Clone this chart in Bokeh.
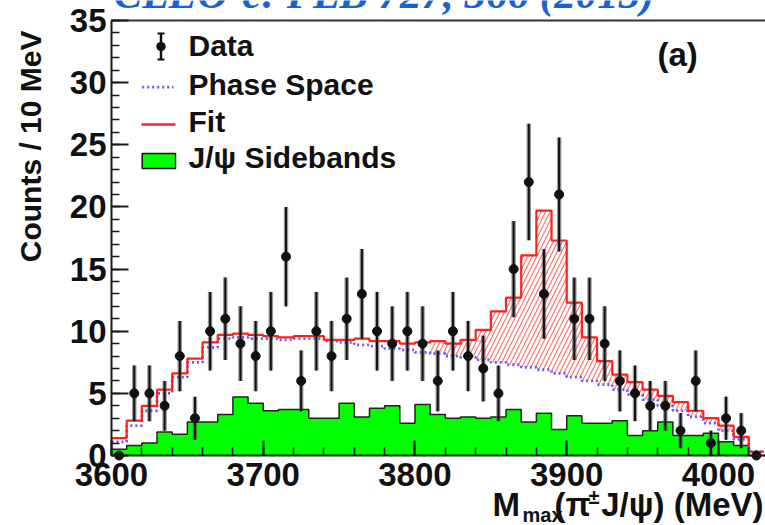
import numpy as np
from bokeh.plotting import figure
from bokeh.models import (Range1d, SingleIntervalTicker, Label, Arrow, TeeHead,
                          BoxAnnotation, LinearAxis)
from bokeh.embed import file_html
from bokeh.resources import INLINE

# ---- binning: 10 MeV bins starting at 3600 MeV ----
BIN_START = 3600
BIN_WIDTH = 10

# data counts per bin
counts = [0, 5, 5, 4, 8, 3, 10, 11, 9, 8,
          10, 16, 6, 10, 8, 11, 13, 10, 9, 10,
          9, 6, 10, 8, 7, 5, 15, 22, 13, 21,
          11, 11, 9, 6, 5, 4, 4, 2, 6, 1,
          3, 2, 0]

# J/psi sideband estimate per bin
sidebands = [0.5, 0.8, 1.0, 1.9, 1.7, 2.7, 2.7, 3.3, 4.7, 4.2,
             3.6, 3.7, 3.7, 3.0, 3.0, 4.2, 3.1, 3.8, 4.0, 2.6,
             4.1, 3.3, 3.0, 3.1, 3.0, 3.1, 3.7, 2.7, 3.4, 2.1,
             3.2, 2.6, 2.6, 2.8, 1.6, 2.0, 2.7, 1.6, 1.6, 1.8,
             1.1, 0.8, 0.0]

# phase-space shape per bin
phase_space = [1.1, 2.4, 3.6, 5.0, 6.3, 7.5, 8.7, 9.4, 9.5, 9.4,
               9.4, 9.3, 9.4, 9.4, 9.2, 9.1, 8.9, 8.8, 8.6, 8.5,
               8.3, 8.2, 8.0, 7.9, 7.7, 7.5, 7.3, 7.1, 6.9, 6.6,
               6.3, 6.0, 5.7, 5.3, 4.9, 4.5, 4.0, 3.6, 3.1, 2.6,
               2.0, 1.3, 0.3]

# total fit per bin
fit = [1.4, 2.8, 4.0, 5.3, 6.6, 7.8, 9.1, 9.7, 9.8, 9.7,
       9.6, 9.5, 9.6, 9.6, 9.3, 9.3, 9.4, 9.2, 9.2, 9.0,
       9.1, 9.2, 9.0, 9.3, 10.1, 11.6, 12.7, 16.1, 19.7, 17.3,
       12.3, 9.5, 7.6, 6.5, 5.9, 5.3, 4.8, 4.3, 3.6, 3.0,
       2.4, 1.5, 0.3]

# the resonance component is shaded from this mass upward
SIGNAL_FROM = 3810

X_MIN, X_MAX = 3600, 4031
Y_MIN, Y_MAX = 0, 35
x_ticks_interval = 100
y_ticks_interval = 5

n = len(counts)
edges = [BIN_START + BIN_WIDTH * i for i in range(n + 1)]
centers = [BIN_START + BIN_WIDTH * (i + 0.5) for i in range(n)]


def closed(vals):
    # repeat the last bin so that a step drawn on the edges covers it
    return list(vals) + [vals[-1]]


# ---- canvas geometry: the axes box sits inside a full-canvas frame ----
W, H = 765, 525
BOX_L, BOX_R, BOX_T, BOX_B = 111, 765, 20, 455
px_x = (BOX_R - BOX_L) / (X_MAX - X_MIN)
px_y = (BOX_B - BOX_T) / (Y_MAX - Y_MIN)
x_range = Range1d(X_MIN - BOX_L / px_x, X_MAX + (W - BOX_R) / px_x)
y_range = Range1d(Y_MIN - (H - BOX_B) / px_y, Y_MAX + BOX_T / px_y)


def sx(cx):
    return cx


def sy(cy):
    return H - cy


p = figure(width=W, height=H, x_range=x_range, y_range=y_range,
           output_backend="svg", toolbar_location=None,
           min_border=0, background_fill_color="white", border_fill_color="white",
           outline_line_color=None)
p.grid.visible = False

xa, ya = p.xaxis[0], p.yaxis[0]
xa.fixed_location = Y_MIN
ya.fixed_location = X_MIN
xa.bounds = (X_MIN, X_MAX)
ya.bounds = (Y_MIN, Y_MAX)
xa.ticker = SingleIntervalTicker(interval=x_ticks_interval, num_minor_ticks=5)
ya.ticker = SingleIntervalTicker(interval=y_ticks_interval, num_minor_ticks=5)
for ax in (xa, ya):
    ax.axis_line_width = 2
    ax.axis_line_color = "#1a1a1a"
    ax.major_tick_out = 0
    ax.minor_tick_out = 0
    ax.minor_tick_in = 8
    ax.major_tick_line_width = 2
    ax.minor_tick_line_width = 1.5
    ax.major_tick_line_color = "#1a1a1a"
    ax.minor_tick_line_color = "#1a1a1a"
    ax.major_label_text_font = "Liberation Sans"
    ax.major_label_text_font_style = "bold"
    ax.major_label_text_font_size = "33px"
    ax.major_label_text_color = "#111111"
xa.major_tick_in = 15
ya.major_tick_in = 17
xa.major_label_standoff = 7
ya.major_label_standoff = 5

# top edge of the box
top = LinearAxis(fixed_location=Y_MAX, bounds=(X_MIN, X_MAX),
                 axis_line_width=2, axis_line_color="#333333",
                 major_tick_line_color=None, minor_tick_line_color=None,
                 major_label_text_color=None)
p.add_layout(top, "above")

# sidebands: filled histogram with dark contour
p.varea_step(x=edges, y1=[0] * (n + 1), y2=closed(sidebands), step_mode="after",
             fill_color="#00ff00")
p.step(x=edges, y=closed(sidebands), mode="after", line_color="#222222", line_width=1.5)

# hatched resonance component between phase space and the fit
i0 = next(i for i, e in enumerate(edges) if e >= SIGNAL_FROM)
p.varea_step(x=edges[i0:], y1=closed(phase_space[i0:]), y2=closed(fit[i0:]),
             step_mode="after", fill_alpha=0, hatch_pattern="/",
             hatch_color="#ff5050", hatch_alpha=0.8, hatch_scale=9, hatch_weight=1.2)

# phase space and total fit
p.step(x=edges, y=closed(phase_space), mode="after", line_color="#6a58ff",
       line_width=2.8, line_dash="2 3")
p.step(x=edges, y=closed(fit), mode="after", line_color="#ff1f1f", line_width=2.2)

# data with Poisson errors
c = np.array(counts, dtype=float)
err = np.sqrt(c)
has = c > 0
xc = np.array(centers)
p.segment(x0=xc[has], y0=(c - err)[has], x1=xc[has], y1=(c + err)[has],
          line_color="#555555", line_width=4.5, line_alpha=0.6)
p.segment(x0=xc[has], y0=(c - err)[has], x1=xc[has], y1=(c + err)[has],
          line_color="#111111", line_width=2)
p.scatter(x=centers, y=counts, size=9, fill_color="#111111", line_color="#111111")

# ---- texts ----
FONT = "Liberation Sans"


def label(cx, cy, text, size="30px", **kw):
    opts = dict(x=sx(cx), y=sy(cy), x_units="screen", y_units="screen", text=text,
                text_font=FONT, text_font_style="bold", text_font_size=size,
                text_color="#111111", text_baseline="middle")
    opts.update(kw)
    p.add_layout(Label(**opts))


label(113, -7, "CLEO-c: PLB 727, 366 (2013)", size="43px",
      text_font="Liberation Serif", text_font_style="bold italic",
      text_color="#1a62d0")
label(657, 54, "(a)", size="33px")
label(30, 30, "Counts / 10 MeV", angle=np.pi / 2, text_align="right")

# x-axis title assembled from pieces
label(492, 504, "M", size="33px")
label(522, 514, "max", size="20px")
label(554, 504, "(π", size="33px")
label(588, 496, "±", size="20px")
label(763, 504, "J/ψ) (MeV)", size="33px", text_align="right")

# ---- legend ----
label(188, 45, "Data")
label(188, 84, "Phase Space")
label(188, 121, "Fit")
label(188, 157, "J/ψ Sidebands")

p.add_layout(Arrow(x_start=sx(160.5), y_start=sy(33), x_end=sx(160.5), y_end=sy(59),
                   start_units="screen", end_units="screen",
                   start=TeeHead(size=7, line_width=2, line_color="#111111"),
                   end=TeeHead(size=7, line_width=2, line_color="#111111"),
                   line_width=2.5, line_color="#111111"))
p.add_layout(Arrow(x_start=sx(160.3), y_start=sy(46), x_end=sx(160.7), y_end=sy(46),
                   start_units="screen", end_units="screen", end=None,
                   line_width=9, line_cap="round", line_color="#111111"))
p.add_layout(Arrow(x_start=sx(141.7), y_start=sy(86.7), x_end=sx(173), y_end=sy(86.7),
                   start_units="screen", end_units="screen", end=None,
                   line_width=2.8, line_dash="2 3", line_color="#6a58ff"))
p.add_layout(Arrow(x_start=sx(141), y_start=sy(124), x_end=sx(175), y_end=sy(124),
                   start_units="screen", end_units="screen", end=None,
                   line_width=2.5, line_color="#ff1f1f"))
p.add_layout(BoxAnnotation(left=sx(141.7), right=sx(175), top=sy(153), bottom=sy(168),
                           left_units="screen", right_units="screen",
                           top_units="screen", bottom_units="screen",
                           fill_color="#00ff00", fill_alpha=1,
                           line_color="#111111", line_alpha=1, line_width=1.5))

open("out.html", "w").write(file_html(p, INLINE))
